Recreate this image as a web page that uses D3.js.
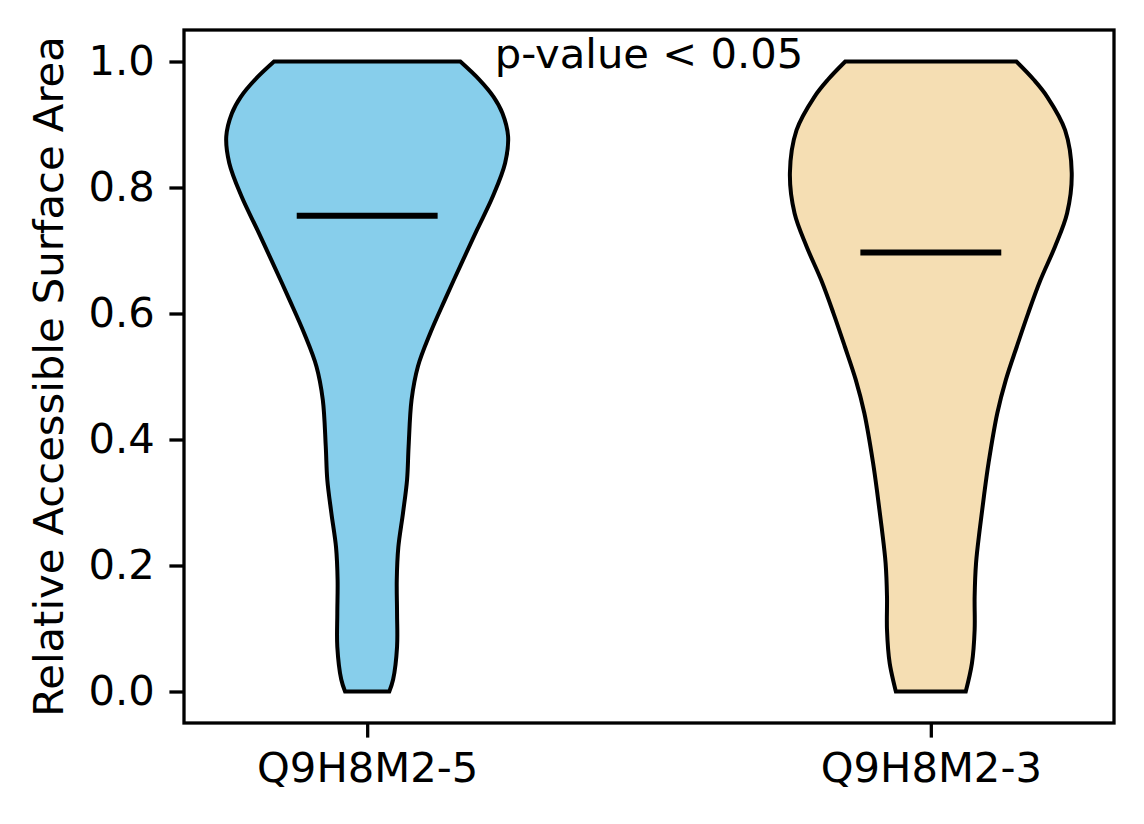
<!DOCTYPE html>
<html lang="en">
<head>
    <meta charset="UTF-8">
    <title>Relative Accessible Surface Area violins</title>
    <script src="https://d3js.org/d3.v7.min.js"></script>
    <style>
        body { margin: 0; background: #fff; }
        text { font-family: "DejaVu Sans", sans-serif; fill: #000; }
        .axis text { font-size: 41.7px; }
        .axis line { stroke: #000; stroke-width: 3.3; }
    </style>
</head>
<body>
    <svg width="1144" height="824"></svg>
    <script>
        // isoforms on the x axis
        const categories = ["Q9H8M2-5", "Q9H8M2-3"];
        const colors = ["#87CEEB", "#F5DEB3"];
        const medians = [0.755, 0.697];
        const yTicks = [0.0, 0.2, 0.4, 0.6, 0.8, 1.0];
        const annotation = "p-value < 0.05";

        // violin outlines: RSA value and scaled density (1 = widest)
        const rsa1 = [0.0, 0.019, 0.071, 0.124, 0.177, 0.229, 0.283, 0.336, 0.389, 0.463, 0.516,
                      0.569, 0.622, 0.680, 0.733, 0.786, 0.839, 0.881, 0.918, 0.944, 0.971, 1.0];
        const density1 = [0.157, 0.184, 0.212, 0.212, 0.210, 0.221, 0.254, 0.283, 0.294, 0.315, 0.360,
                          0.448, 0.552, 0.670, 0.780, 0.892, 0.979, 1.0, 0.960, 0.897, 0.797, 0.661];

        const rsa2 = [0.0, 0.045, 0.098, 0.151, 0.204, 0.257, 0.310, 0.363, 0.442, 0.495, 0.548, 0.601,
                      0.653, 0.706, 0.759, 0.823, 0.891, 0.944, 0.971, 1.0];
        const density2 = [0.248, 0.292, 0.311, 0.311, 0.321, 0.347, 0.377, 0.410, 0.472, 0.533, 0.611, 0.692,
                          0.778, 0.881, 0.967, 1.0, 0.953, 0.826, 0.731, 0.607];

        const svg = d3.select("svg");
        const plotLeft = 184, plotRight = 1114, plotTop = 30, plotBottom = 723;

        // positions 1 and 2, like matplotlib's violinplot
        const x = d3.scaleLinear().domain([0.675, 2.325]).range([plotLeft, plotRight]);
        const y = d3.scaleLinear().domain([-0.05, 1.05]).range([plotBottom, plotTop]);
        const halfWidth = 0.25; // max half width in x units

        const violins = [
            { pos: 1, rsa: rsa1, density: density1 },
            { pos: 2, rsa: rsa2, density: density2 }
        ];

        violins.forEach((v, i) => {
            const pts = v.rsa.map((r, k) => ({ r: r, d: v.density[k] }));
            const area = d3.area()
                .y(d => y(d.r))
                .x0(d => x(v.pos - d.d * halfWidth))
                .x1(d => x(v.pos + d.d * halfWidth))
                .curve(d3.curveCatmullRom);

            svg.append("path")
                .datum(pts)
                .attr("d", area)
                .attr("fill", colors[i])
                .attr("stroke", "#000")
                .attr("stroke-width", 4)
                .attr("stroke-linejoin", "miter");

            // median bar
            svg.append("line")
                .attr("x1", x(v.pos - halfWidth / 2))
                .attr("x2", x(v.pos + halfWidth / 2))
                .attr("y1", y(medians[i]))
                .attr("y2", y(medians[i]))
                .attr("stroke", "#000")
                .attr("stroke-width", 6);
        });

        // axes
        const xAxis = d3.axisBottom(x)
            .tickValues([1, 2])
            .tickFormat((d, i) => categories[i])
            .tickSize(14.6)
            .tickPadding(14.6);
        const yAxis = d3.axisLeft(y)
            .tickValues(yTicks)
            .tickFormat(d3.format(".1f"))
            .tickSize(14.6)
            .tickPadding(14.6);

        svg.append("g")
            .attr("class", "axis")
            .attr("transform", `translate(0, ${plotBottom})`)
            .call(xAxis)
            .call(g => g.select(".domain").remove());

        svg.append("g")
            .attr("class", "axis")
            .attr("transform", `translate(${plotLeft}, 0)`)
            .call(yAxis)
            .call(g => g.select(".domain").remove());

        // frame
        svg.append("rect")
            .attr("x", plotLeft)
            .attr("y", plotTop)
            .attr("width", plotRight - plotLeft)
            .attr("height", plotBottom - plotTop)
            .attr("fill", "none")
            .attr("stroke", "#000")
            .attr("stroke-width", 3.3);

        // y label
        svg.append("text")
            .attr("transform", `translate(63, ${(plotTop + plotBottom) / 2}) rotate(-90)`)
            .attr("text-anchor", "middle")
            .style("font-size", "41.7px")
            .text("Relative Accessible Surface Area");

        // annotation
        svg.append("text")
            .attr("x", x(1.5))
            .attr("y", y(1.0) + 6)
            .attr("text-anchor", "middle")
            .style("font-size", "41.7px")
            .text(annotation);
    </script>
</body>
</html>
